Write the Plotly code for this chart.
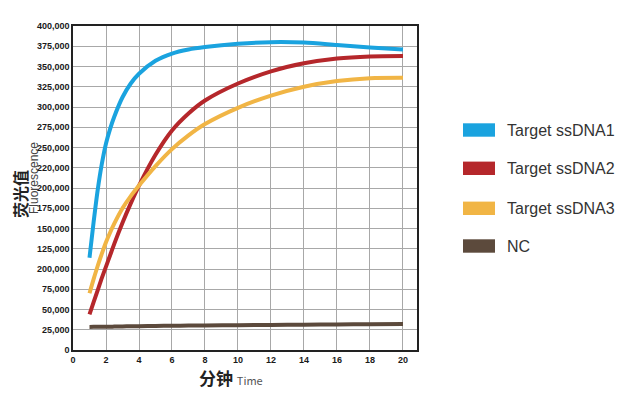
import plotly.graph_objects as go

# ---- data ----
time_min = [1, 1.25, 1.5, 1.75, 2, 2.25, 2.5, 3, 3.5, 4, 5, 6, 7, 8, 10, 12, 14, 16, 18, 20]
ssdna1 = [114000, 158000, 198000, 230000, 255000, 273000, 288000, 312000, 329000, 341000,
          357000, 366000, 371000, 374000, 378000, 380000, 379500, 376500, 373500, 371000]
ssdna2 = [44000, 59000, 74000, 89000, 103000, 117000, 131000, 157000, 181000, 203000,
          241000, 271000, 292000, 308000, 329000, 344000, 354000, 360000, 362500, 363000]
ssdna3 = [70000, 87500, 104000, 119000, 133000, 145000, 156000, 175000, 190000, 203000,
          227000, 248000, 265000, 279000, 299000, 314000, 325000, 332000, 335500, 336000]
nc = [28500, 28550, 28600, 28650, 28700, 28800, 28900, 29100, 29300, 29400,
      29700, 29900, 30100, 30300, 30600, 30900, 31200, 31500, 31800, 32000]

series_names = ["Target ssDNA1", "Target ssDNA2", "Target ssDNA3", "NC"]
series_values = [ssdna1, ssdna2, ssdna3, nc]
series_colors = ["#1aa3df", "#b5272b", "#f1b545", "#5c4a3c"]

x_tick_vals = list(range(0, 21, 2))
y_tick_vals = list(range(0, 400001, 25000))
y_tick_text = ["0", "25,000", "50,000", "75,000", "200,000", "125,000", "150,000", "175,000",
               "200,000", "220,000", "250,000", "275,000", "300,000", "325,000", "350,000",
               "375,000", "400,000"]

fig = go.Figure()
for name, vals, col in zip(series_names, series_values, series_colors):
    fig.add_trace(go.Scatter(x=time_min, y=vals, mode="lines", name=name,
                             line=dict(color=col, width=4, shape="spline", smoothing=0.8),
                             showlegend=False))

tick_font = dict(family="Liberation Sans, Arial, sans-serif",
                 size=9, color="#1a1a1a", weight="bold")

# page body has an 8px default margin, so margins are offset to compensate
fig.update_layout(
    width=625, height=397,
    margin=dict(l=65, r=216, t=18, b=55),
    paper_bgcolor="white", plot_bgcolor="white",
    xaxis=dict(range=[0, 20.85], tickvals=x_tick_vals, ticktext=[str(v) for v in x_tick_vals],
               showgrid=True, gridcolor="#a8a8a8", gridwidth=1,
               showline=True, linecolor="#222", linewidth=1.5, mirror=True,
               ticks="", tickfont=tick_font, zeroline=False),
    yaxis=dict(range=[0, 400000], tickvals=y_tick_vals, ticktext=y_tick_text,
               showgrid=True, gridcolor="#a8a8a8", gridwidth=1,
               showline=True, linecolor="#222", linewidth=1.5, mirror=True,
               ticks="", tickfont=tick_font, zeroline=False),
)

def px_x(wx):
    return (wx - 73) / 344

def px_y(wy):
    return (350 - wy) / 324

cjk = "Noto Sans CJK SC, Liberation Sans, sans-serif"

# x axis title
fig.add_annotation(
    xref="paper", yref="paper", x=px_x(231), y=px_y(377), xanchor="center", yanchor="middle",
    text="<b>分钟</b> <span style='font-size:11px;color:#555'>Time</span>",
    showarrow=False, font=dict(family=cjk, size=17, color="#222"))

# y axis title (two rotated pieces)
fig.add_annotation(
    xref="paper", yref="paper", x=px_x(20), y=px_y(194), xanchor="center", yanchor="middle",
    textangle=-90, text="<b>荧光值</b>", borderpad=0,
    showarrow=False, font=dict(family=cjk, size=16, color="#222"))
fig.add_annotation(
    xref="paper", yref="paper", x=px_x(34), y=px_y(178), xanchor="center", yanchor="middle",
    textangle=-90, text="Fluorescence", borderpad=0,
    showarrow=False, font=dict(family="Liberation Sans, Arial, sans-serif", size=12, color="#444"))

# legend (colour patches + labels)
legend_y_px = [130, 168.3, 208.3, 246]
for name, col, py in zip(series_names, series_colors, legend_y_px):
    yc = px_y(py)
    fig.add_shape(type="rect", xref="paper", yref="paper",
                  x0=px_x(463), x1=px_x(495), y0=yc - 6.7 / 324, y1=yc + 6.7 / 324,
                  fillcolor=col, line=dict(width=0))
    fig.add_annotation(xref="paper", yref="paper", x=px_x(505), y=yc, xanchor="left", yanchor="middle",
                       text=name, showarrow=False,
                       font=dict(family="Liberation Sans, Arial, sans-serif", size=16, color="#333"))

fig.write_html("out.html")
